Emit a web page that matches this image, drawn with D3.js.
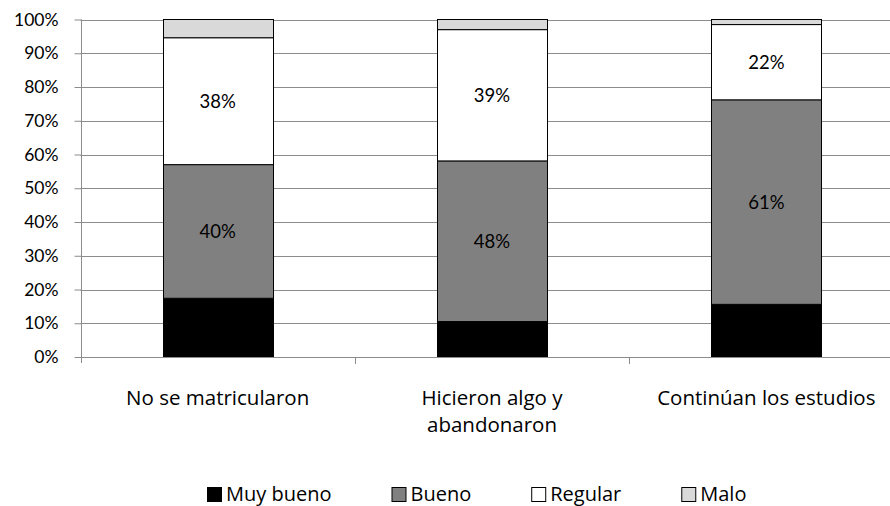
<!DOCTYPE html>
<html>
<head>
<meta charset="utf-8">
<script src="https://cdn.jsdelivr.net/npm/d3@7"></script>
<style>
  html, body { margin: 0; padding: 0; background: #fff; }
  svg { display: block; font-family: Lato, "Open Sans", sans-serif; }
</style>
</head>
<body>
<svg id="chart" width="890" height="506"></svg>
<script>
const categories = ["No se matricularon", "Hicieron algo y\nabandonaron", "Continúan los estudios"];
const seriesNames = ["Muy bueno", "Bueno", "Regular", "Malo"];
const muyBueno = [0.174, 0.105, 0.156];
const bueno    = [0.396, 0.476, 0.606];
const regular  = [0.376, 0.389, 0.223];
const malo     = [0.054, 0.030, 0.015];
const yTicks = [0, 0.1, 0.2, 0.3, 0.4, 0.5, 0.6, 0.7, 0.8, 0.9, 1.0];
const labeledSeries = ["Bueno", "Regular"];

(function () {
const colors = {"Muy bueno": "#000000", "Bueno": "#808080", "Regular": "#ffffff", "Malo": "#d9d9d9"};
const wideFont = "'Open Sans', Lato, sans-serif";

const rows = categories.map((c, i) => ({
  cat: c, "Muy bueno": muyBueno[i], "Bueno": bueno[i], "Regular": regular[i], "Malo": malo[i]
}));

const svg = d3.select("#chart");
const pLeft = 80.5, pRight = 903.5, pTop = 19.5, pBottom = 357;

const x = d3.scaleBand().domain(categories).range([pLeft, pRight]).paddingInner(0.6).paddingOuter(0.3);
const y = d3.scaleLinear().domain([0, 1]).range([pBottom, pTop]);

// gridlines
svg.append("g").selectAll("line").data(yTicks.slice(1)).join("line")
  .attr("x1", pLeft).attr("x2", pRight)
  .attr("y1", d => Math.round(y(d)) + 0.5).attr("y2", d => Math.round(y(d)) + 0.5)
  .attr("stroke", "#8c8c8c").attr("stroke-width", 1);

// y axis
const yAxis = d3.axisLeft(y).tickValues(yTicks).tickFormat(d3.format(".0%")).tickSizeOuter(0).tickSize(7).tickPadding(16);
const gy = svg.append("g").attr("transform", `translate(${Math.round(pLeft) + 0.5},0)`).call(yAxis);
gy.select(".domain").attr("stroke", "#8c8c8c").attr("d", `M0,${pTop}V${pBottom + 6}`);
gy.selectAll(".tick line").attr("stroke", "#8c8c8c");
gy.selectAll(".tick text").attr("font-size", 17.5).attr("fill", "#000").attr("font-family", "Lato, sans-serif");

// stacked bars
const stacked = d3.stack().keys(seriesNames)(rows);

const gBars = svg.append("g");
stacked.forEach(s => {
  gBars.append("g").selectAll("rect").data(s).join("rect")
    .attr("x", d => Math.round(x(d.data.cat)) + 0.5)
    .attr("width", Math.round(x.bandwidth()))
    .attr("y", d => y(d[1]))
    .attr("height", d => y(d[0]) - y(d[1]))
    .attr("fill", colors[s.key])
    .attr("stroke", "#000").attr("stroke-width", 1);
});

// data labels
stacked.filter(s => labeledSeries.includes(s.key)).forEach(s => {
  gBars.append("g").selectAll("text").data(s).join("text")
    .attr("x", d => x(d.data.cat) + x.bandwidth() / 2)
    .attr("y", d => (y(d[0]) + y(d[1])) / 2)
    .attr("dy", "0.35em")
    .attr("text-anchor", "middle")
    .attr("font-size", 18.5)
    .attr("fill", "#000")
    .text(d => d3.format(".0%")(d[1] - d[0]));
});

// x axis line
svg.append("line").attr("x1", pLeft).attr("x2", pRight).attr("y1", Math.round(pBottom) + 0.5).attr("y2", Math.round(pBottom) + 0.5)
  .attr("stroke", "#8c8c8c");
// boundary ticks between categories
const bounds = categories.slice(1).map(c => x(c) - x.step() * x.paddingInner() / 2);
svg.append("g").selectAll("line").data(bounds).join("line")
  .attr("x1", d => Math.round(d) + 0.5).attr("x2", d => Math.round(d) + 0.5)
  .attr("y1", pBottom).attr("y2", pBottom + 7).attr("stroke", "#8c8c8c");

// category labels
const gCat = svg.append("g");
categories.forEach(c => {
  const t = gCat.append("text").attr("text-anchor", "middle").attr("font-size", 20.5)
    .attr("font-family", wideFont).attr("fill", "#000");
  c.split("\n").forEach((line, i) => {
    t.append("tspan").attr("x", x(c) + x.bandwidth() / 2).attr("y", 405 + i * 27).text(line);
  });
});

// legend
const legend = svg.append("g");
const sq = 14, gapText = 5, gapItem = 60;
let lx = 0;
seriesNames.forEach(n => {
  const g = legend.append("g").attr("transform", `translate(${lx},0)`);
  g.append("rect").attr("x", 0.5).attr("y", -sq / 2 + 0.5).attr("width", sq).attr("height", sq)
    .attr("fill", colors[n]).attr("stroke", "#000").attr("stroke-width", 1);
  const t = g.append("text").attr("x", sq + gapText).attr("dy", "0.35em").attr("font-size", 20)
    .attr("font-family", wideFont).attr("fill", "#000").text(n);
  lx += sq + gapText + t.node().getComputedTextLength() + gapItem;
});
const totalW = lx - gapItem;
legend.attr("transform", `translate(${Math.round(477 - totalW / 2)},494)`);
})();
</script>
</body>
</html>
